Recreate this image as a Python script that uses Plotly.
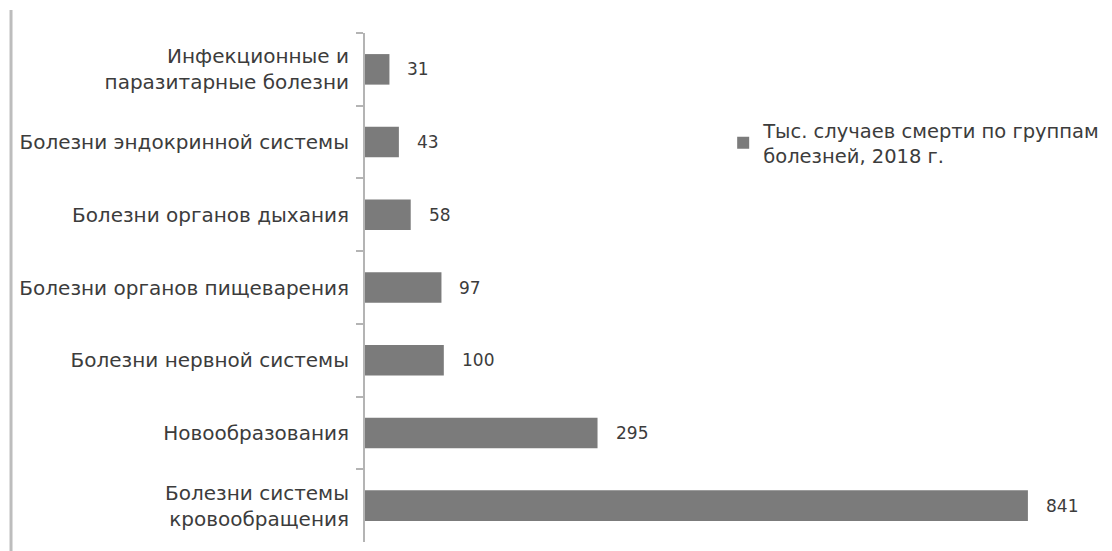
import plotly.graph_objects as go

categories = [
    "Инфекционные и<br>паразитарные болезни",
    "Болезни эндокринной системы",
    "Болезни органов дыхания",
    "Болезни органов пищеварения",
    "Болезни нервной системы",
    "Новообразования",
    "Болезни системы<br>кровообращения",
]
values = [31, 43, 58, 97, 100, 295, 841]
series_name = "Тыс. случаев смерти по группам<br>болезней, 2018 г."

FONT = "DejaVu Sans"
TXT = "#3c3c3c"

fig = go.Figure()
fig.add_trace(go.Bar(
    y=categories, x=values, orientation="h",
    name=series_name,
    marker=dict(color="#7b7b7b", line=dict(width=0)),
    showlegend=True,
))

for c, v in zip(categories, values):
    fig.add_annotation(x=v, y=c, text=str(v), showarrow=False,
                       xanchor="left", yanchor="middle", xshift=16,
                       font=dict(family=FONT, size=17, color=TXT))

fig.add_shape(type="line", xref="paper", yref="paper",
              x0=-0.4803, x1=-0.4803, y0=1.045, y1=-0.05,
              line=dict(color="#bdbdbd", width=3))

fig.update_layout(
    width=1112, height=551,
    margin=dict(l=365, r=10, t=33, b=9, autoexpand=False),
    plot_bgcolor="white", paper_bgcolor="white",
    bargap=0.58,
    font=dict(family=FONT, size=20, color=TXT),
    xaxis=dict(range=[0, 935], visible=False, showgrid=False, zeroline=False),
    yaxis=dict(
        categoryorder="array", categoryarray=categories, autorange="reversed",
        showline=True, linecolor="#b4b4b4", linewidth=2,
        ticks="outside", tickson="boundaries", ticklen=7, tickcolor="#b4b4b4",
        tickwidth=2, ticklabelstandoff=10, showgrid=False,
        tickfont=dict(family=FONT, size=20, color=TXT),
    ),
    legend=dict(x=0.486, y=0.847, xanchor="left", yanchor="top",
                bgcolor="rgba(0,0,0,0)", font=dict(family=FONT, size=19.5, color=TXT),
                itemwidth=30),
)

fig.write_html("out.html")
